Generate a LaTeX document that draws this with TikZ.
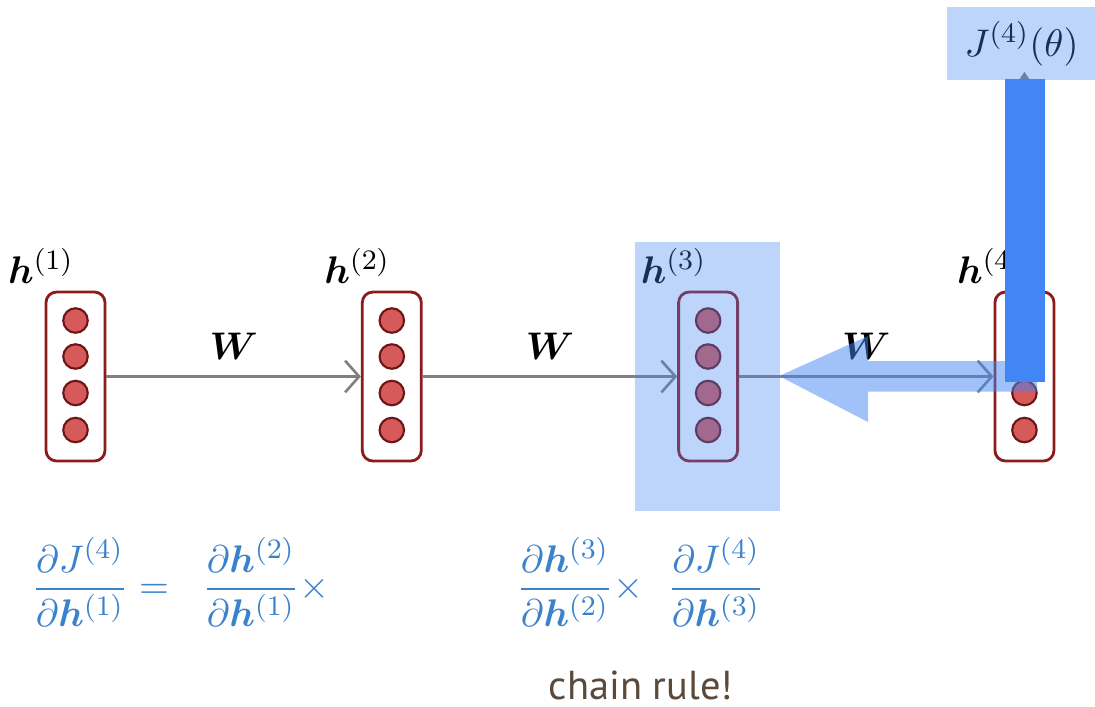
\documentclass[tikz,border=0pt]{standalone}
\usepackage{amsmath}
\usepackage{bm}
\usepackage{fontspec}
\newfontfamily\notefont{PT Sans}
\usetikzlibrary{arrows.meta, positioning, calc}
\definecolor{cellRed}{HTML}{D65A5A}
\definecolor{cellEdge}{HTML}{6B1515}
\definecolor{layerEdge}{HTML}{8E1B1B}
\definecolor{flowGray}{HTML}{808080}
\definecolor{gradBlue}{HTML}{4285F4}
\definecolor{mathBlue}{HTML}{3B82CC}
\definecolor{noteBrown}{HTML}{5A4A3C}

\begin{document}
\begin{tikzpicture}[
  every node/.style={font=\fontsize{11}{13}\selectfont},
  layer/.style={
    rectangle, rounded corners=3pt,
    draw=layerEdge, line width=0.8pt, fill=white,
    minimum width=0.59cm, minimum height=1.69cm, inner sep=0pt
  },
  cell/.style={circle, draw=cellEdge, fill=cellRed, line width=0.6pt,
    minimum size=0.245cm, inner sep=0pt},
  flow/.style={-{Straight Barb[length=4pt, width=9pt]}, draw=flowGray, line width=0.75pt},
  up/.style={-{Triangle[length=2.4pt, width=3pt]}, draw=flowGray, line width=0.75pt},
  hlab/.style={anchor=base east, inner sep=0pt},
  wlab/.style={midway, above=1pt},
  grad/.style={color=mathBlue, anchor=west, inner sep=0pt},
  hilite/.style={fill=gradBlue, fill opacity=0.35},
  backarrow/.style={fill=gradBlue, fill opacity=0.5},
  note/.style={font=\notefont\fontsize{11.5}{13}\selectfont, color=noteBrown}
]
\useasboundingbox (0,0) rectangle (10.95,-7.06);

% --- Hidden layers ---
\node[layer] (h1) at (0.755,-3.765) {};
\node[layer, right=2.545cm of h1] (h2) {};
\node[layer, right=2.545cm of h2] (h3) {};
\node[layer, right=2.545cm of h3] (h4) {};

\foreach \n in {h1,h2,h3,h4}{
  \foreach \dy [count=\k] in {0.56,0.20,-0.165,-0.535}
    \node[cell] (\n-\k) at ($(\n.center)+(0,\dy)$) {};
}

% --- Layer labels ---
\node[hlab] (h1lab) at ($(h1.north)+(-0.01,0.07)$) {$\bm{h}^{(1)}$};
\node[hlab] (h2lab) at ($(h2.north)+(-0.01,0.07)$) {$\bm{h}^{(2)}$};
\node[hlab] (h3lab) at ($(h3.north)+(-0.01,0.07)$) {$\bm{h}^{(3)}$};
\node[hlab] (h4lab) at ($(h4.north)+(-0.01,0.07)$) {$\bm{h}^{(4)}$};

% --- Forward flow ---
\draw[flow] (h1) -- node[wlab] (w12) {$\bm{W}$} (h2);
\draw[flow] (h2) -- node[wlab] (w23) {$\bm{W}$} (h3);
\draw[flow] (h3) -- node[wlab] (w34) {$\bm{W}$} (h4);

% --- Loss ---
\node[minimum width=1.47cm, minimum height=0.71cm, inner sep=0pt] (J) at (10.215,-0.435) {$J^{(4)}(\theta)$};
\draw[up] (h4.north) -- ([yshift=0.08cm]h4.north |- J.south);

% --- Highlights ---
\fill[hilite] ($(h3.north west)+(-0.42,0.49)$) rectangle ($(h3.south east)+(0.41,-0.49)$);
\fill[hilite] (J.south west) rectangle (J.north east);

% --- Gradient flowing back ---
\fill[backarrow] (7.79,-3.76) -- (8.68,-3.36) -- (8.68,-3.61) -- (10.37,-3.61)
  -- (10.37,-3.915) -- (8.68,-3.915) -- (8.68,-4.22) -- cycle;
\fill[gradBlue] (10.05,-0.79) rectangle (10.45,-3.82);

% --- Chain rule terms ---
\node[grad] (dJdh1) at (0.31,-5.82) {$\dfrac{\partial J^{(4)}}{\partial \bm{h}^{(1)}} =$};
\node[grad] (dh2dh1) at (2.02,-5.82) {$\dfrac{\partial \bm{h}^{(2)}}{\partial \bm{h}^{(1)}}\times$};
\node[grad] (dh3dh2) at (5.16,-5.82) {$\dfrac{\partial \bm{h}^{(3)}}{\partial \bm{h}^{(2)}}\times$};
\node[grad] (dJdh3) at (6.67,-5.82) {$\dfrac{\partial J^{(4)}}{\partial \bm{h}^{(3)}}$};

\node[note] (chain) at (6.41,-6.85) {chain rule!};

\end{tikzpicture}
\end{document}
